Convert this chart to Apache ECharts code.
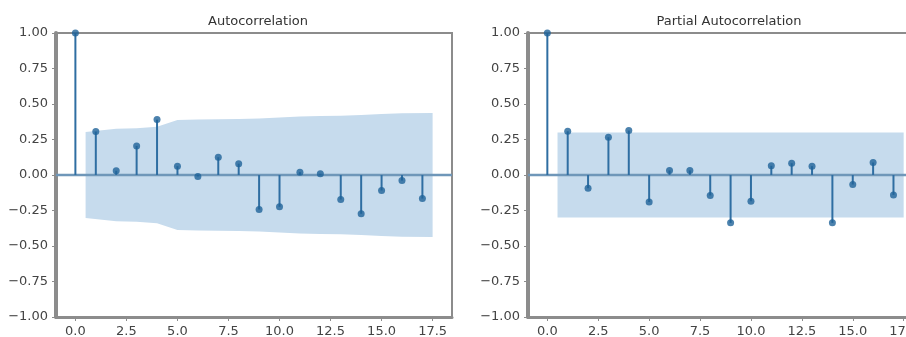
<!DOCTYPE html>
<html><head><meta charset="utf-8">
<script src="https://cdn.jsdelivr.net/npm/echarts@6/dist/echarts.min.js"></script>
<style>html,body{margin:0;padding:0;background:#fff}#c{width:906px;height:337px}</style>
</head><body><div id="c"></div>
<script>
const lags = [0,1,2,3,4,5,6,7,8,9,10,11,12,13,14,15,16,17];
const acfValues = [1.00,0.306,0.03,0.205,0.39,0.062,-0.01,0.125,0.08,-0.243,-0.224,0.02,0.008,-0.173,-0.273,-0.109,-0.039,-0.166];
const pacfValues = [1.00,0.308,-0.093,0.266,0.313,-0.19,0.032,0.032,-0.144,-0.337,-0.185,0.065,0.083,0.062,-0.337,-0.067,0.088,-0.14];
const bandX = [0.5,2,3,4,5,6,7,8,9,10,11,12,13,14,15,16,17.5];
const acfBandUpper = [0.303,0.325,0.33,0.34,0.388,0.39,0.392,0.395,0.398,0.405,0.412,0.415,0.418,0.423,0.43,0.434,0.436];
const acfBandLower = [-0.303,-0.325,-0.33,-0.34,-0.388,-0.39,-0.392,-0.395,-0.398,-0.405,-0.412,-0.415,-0.418,-0.423,-0.43,-0.434,-0.436];
const pacfBandUpper = [0.30,0.30,0.30,0.30,0.30,0.30,0.30,0.30,0.30,0.30,0.30,0.30,0.30,0.30,0.30,0.30,0.30];
const pacfBandLower = [-0.30,-0.30,-0.30,-0.30,-0.30,-0.30,-0.30,-0.30,-0.30,-0.30,-0.30,-0.30,-0.30,-0.30,-0.30,-0.30,-0.30];
const xTicks = [0,2.5,5,7.5,10,12.5,15,17.5];
const titles = ['Autocorrelation','Partial Autocorrelation'];

const FONT = 'DejaVu Sans';
const STEM = '#2f6ea2';
const MARK = '#1f6399';
const BAND = '#c6dbed';
const SPINE = '#8c8c8c';

function fmtY(v){ return (v<0?'\u2212':'') + Math.abs(v).toFixed(2); }

function xAxisFor(i){
  return {gridIndex:i, type:'value', min:-0.95, max:18.45,
    axisLine:{show:true,onZero:false,lineStyle:{color:SPINE,width:3}},
    axisTick:{show:true,customValues:xTicks,length:4,lineStyle:{color:SPINE,width:1}},
    axisLabel:{customValues:xTicks,formatter:v=>v.toFixed(1),fontSize:13,color:'#444',margin:8,fontFamily:FONT},
    splitLine:{show:false}};
}
function yAxisFor(i){
  return {gridIndex:i, type:'value', min:-1, max:1, interval:0.25,
    axisLine:{show:true,onZero:false,lineStyle:{color:SPINE,width:4}},
    axisTick:{show:true,length:4,lineStyle:{color:SPINE,width:1}},
    axisLabel:{formatter:fmtY,fontSize:13,color:'#444',margin:8,fontFamily:FONT},
    splitLine:{show:false}};
}
function bandSeries(i, up, lo){
  return {type:'custom', xAxisIndex:i, yAxisIndex:i, data:[0], silent:true, z:1,
    renderItem:(params, api)=>{
      const pts=[];
      for(let k=0;k<bandX.length;k++) pts.push(api.coord([bandX[k], up[k]]));
      for(let k=bandX.length-1;k>=0;k--) pts.push(api.coord([bandX[k], lo[k]]));
      return {type:'polygon', shape:{points:pts}, style:{fill:BAND}};
    }};
}
function zeroSeries(i){
  return {type:'custom', xAxisIndex:i, yAxisIndex:i, data:[0], silent:true, z:2,
    renderItem:(params, api)=>{
      const cs = params.coordSys;
      const y = api.coord([0,0])[1];
      return {type:'line', shape:{x1:cs.x, y1:y, x2:cs.x+cs.width, y2:y}, style:{stroke:'#6f97b9', lineWidth:2.5}};
    }};
}
function stemSeries(i, vals){
  return {type:'custom', xAxisIndex:i, yAxisIndex:i, silent:true, z:3,
    data: lags.map((l,k)=>[l, vals[k]]), encode:{x:0,y:1},
    renderItem:(params, api)=>{
      const a = api.coord([api.value(0), 0]);
      const b = api.coord([api.value(0), api.value(1)]);
      return {type:'line', shape:{x1:a[0],y1:a[1],x2:b[0],y2:b[1]}, style:{stroke:STEM, lineWidth:2}};
    }};
}
function markerSeries(i, vals){
  return {type:'scatter', xAxisIndex:i, yAxisIndex:i, silent:true, z:4, clip:false,
    data: lags.map((l,k)=>[l, vals[k]]), symbol:'circle', symbolSize:7,
    itemStyle:{color:MARK}};
}

const chart = echarts.init(document.getElementById('c'), null, {renderer:'canvas'});
chart.setOption({
  animation:false,
  backgroundColor:'#fff',
  title:[
    {text:titles[0], left:253, top:10, textAlign:'center', textStyle:{fontSize:13,fontWeight:'normal',color:'#333',fontFamily:FONT}},
    {text:titles[1], left:724, top:10, textAlign:'center', textStyle:{fontSize:13,fontWeight:'normal',color:'#333',fontFamily:FONT}}
  ],
  grid:[
    {left:56, top:33, width:396, height:284, show:true, borderColor:SPINE, borderWidth:2, backgroundColor:'transparent', outerBoundsMode:'none', containLabel:false},
    {left:528, top:33, width:395, height:284, show:true, borderColor:SPINE, borderWidth:2, backgroundColor:'transparent', outerBoundsMode:'none', containLabel:false}
  ],
  xAxis:[xAxisFor(0), xAxisFor(1)],
  yAxis:[yAxisFor(0), yAxisFor(1)],
  series:[
    bandSeries(0, acfBandUpper, acfBandLower), zeroSeries(0), stemSeries(0, acfValues), markerSeries(0, acfValues),
    bandSeries(1, pacfBandUpper, pacfBandLower), zeroSeries(1), stemSeries(1, pacfValues), markerSeries(1, pacfValues)
  ]
});
</script></body></html>
